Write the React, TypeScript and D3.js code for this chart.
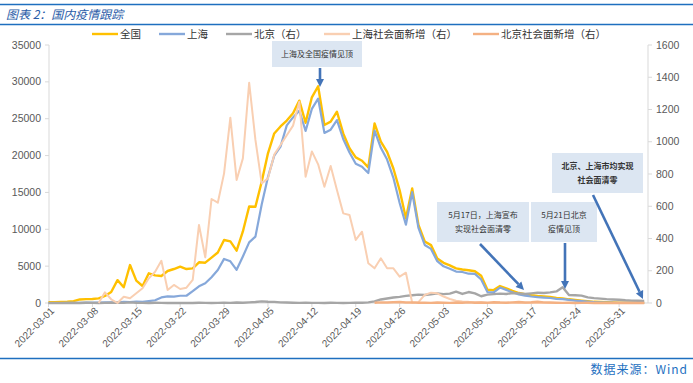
import React from "react";
import * as d3 from "d3";

// ---- data (daily, 2022-03-01 .. 2022-06-04) ----
const tickLabels = [
  "2022-03-01", "2022-03-08", "2022-03-15", "2022-03-22", "2022-03-29",
  "2022-04-05", "2022-04-12", "2022-04-19", "2022-04-26", "2022-05-03",
  "2022-05-10", "2022-05-17", "2022-05-24", "2022-05-31",
];

const seriesNames = ["全国", "上海", "北京（右）", "上海社会面新增（右）", "北京社会面新增（右）"];

const national = [
  95, 100, 130, 170, 250, 480, 520, 540, 620, 950,
  1500, 3100, 2130, 5150, 3030, 2310, 4030, 3750, 3660, 4340,
  4610, 4930, 4610, 4700, 5520, 5470, 6150, 6850, 8550, 8350,
  7100, 9700, 13100, 13050, 16450, 20300, 23000, 23950, 24750, 25750,
  27450, 24450, 27900, 29400, 24150, 24600, 25950, 23000, 21000, 19750,
  19300, 18400, 24350, 21900, 20500, 18250, 15300, 11500, 15550, 10600,
  8350, 7850, 6050, 5450, 5100, 4700, 4550, 4450, 4300, 3700,
  1800, 1750, 2300, 1990, 1650, 1350, 1200, 1050, 950, 880,
  820, 680, 620, 500, 400, 310, 230, 160, 130, 100,
  70, 55, 45, 35, 30, 25,
];

const shanghai = [
  2, 2, 3, 5, 6, 16, 45, 55, 62, 75,
  83, 65, 169, 139, 202, 158, 260, 374, 758, 896,
  865, 981, 983, 1609, 2269, 2678, 3500, 4477, 5982, 5653,
  4502, 6311, 8226, 9006, 13354, 17077, 19989, 21222, 24101, 25173,
  26087, 23342, 26330, 27719, 23072, 23513, 24820, 22248, 20416, 18901,
  18495, 17629, 23370, 21058, 19455, 16980, 13562, 10622, 15032, 10181,
  7872, 7333, 5669, 4982, 4651, 4269, 4214, 3975, 3947, 3200,
  1487, 1449, 2096, 1780, 1450, 1150, 1000, 880, 800, 740,
  680, 570, 520, 420, 330, 260, 190, 130, 100, 70,
  40, 30, 20, 12, 8, 5,
];

const beijing = [
  0, 1, 0, 0, 1, 0, 2, 1, 0, 1,
  2, 3, 1, 4, 2, 1, 0, 2, 1, 0,
  1, 0, 1, 0, 2, 1, 0, 1, 2, 1,
  3, 2, 4, 6, 10, 8, 7, 4, 3, 2,
  1, 2, 1, 1, 0, 2, 1, 0, 1, 2,
  2, 4, 10, 22, 28, 34, 38, 44, 48, 52,
  50, 54, 60, 55, 58, 70, 56, 68, 60, 42,
  52, 55, 58, 56, 62, 60, 56, 60, 64, 62,
  66, 72, 98, 50, 48, 46, 35, 30, 27, 24,
  22, 20, 17, 15, 14, 12,
];

const shanghaiSocial: (number | null)[] = [
  null, null, null, null, null, null, null, null, 0, 66,
  23, 0, 39, 29, 60, 91, 153, 194, 262, 81,
  112, 87, 95, 143, 484, 283, 645, 622, 804, 1149,
  763, 897, 1366, 1011, 742, 773, 920, 980, 1040, 1100,
  1248, 783, 940, 860, 721, 850, 701, 556, 546, 391,
  442, 246, 215, 277, 215, 215, 163, 188, 2, 5,
  50, 64, 60, 40, 25, 14, 10, 7, 5, 4,
  3, 2, 3, 2, 1, 0, 0, 0, 0, 0,
  0, 0, 0, 0, 0, 0, 0, 0, 0, 0,
  0, 0, 0, 0, 0, 0,
];

const beijingSocial: (number | null)[] = [
  null, null, null, null, null, null, null, null, null, null,
  null, null, null, null, null, null, null, null, null, null,
  null, null, null, null, null, null, null, null, null, null,
  null, null, null, null, null, null, null, null, null, null,
  null, null, null, null, null, null, null, null, null, null,
  null, null, 2, 4, 3, 5, 6, 3, 4, 2,
  2, 1, 3, 2, 1, 3, 2, 4, 2, 3,
  1, 5, 3, 2, 4, 6, 3, 5, 8, 4,
  3, 2, 1, 2, 0, 1, 2, 0, 1, 0,
  0, 1, 0, 0, 0, 0,
];

const leftTicks = [0, 5000, 10000, 15000, 20000, 25000, 30000, 35000];
const rightTicks = [0, 200, 400, 600, 800, 1000, 1200, 1400, 1600];

const annotations = [
  { box: [272, 41, 90, 26], lines: ["上海及全国疫情见顶"], bold: false, arrow: [320, 68, 320, 87] },
  { box: [437, 202, 92, 40], lines: ["5月17日，上海宣布", "实现社会面清零"], bold: false, arrow: [480, 244, 524, 290] },
  { box: [531, 202, 66, 40], lines: ["5月21日北京", "疫情见顶"], bold: false, arrow: [565, 243, 565, 289] },
  { box: [552, 153, 91, 40], lines: ["北京、上海市均实现", "社会面清零"], bold: true, arrow: [593, 195, 643, 299] },
];

const FONT = "'Liberation Sans', Arial, 'Noto Sans CJK SC', sans-serif";
const CJK = "'Noto Sans CJK SC', 'Liberation Sans', sans-serif";

const colors = ["#FFC000", "#86A8DA", "#A6A6A6", "#F9CFB2", "#F4B183"];
const widths = [2.4, 2.2, 2.4, 2.0, 2.4];

function Arrow({ a }: { a: number[] }) {
  const [x1, y1, x2, y2] = a;
  const ang = Math.atan2(y2 - y1, x2 - x1);
  const L = 8, Wd = 4;
  const bx = x2 - L * Math.cos(ang), by = y2 - L * Math.sin(ang);
  const px = -Math.sin(ang) * Wd, py = Math.cos(ang) * Wd;
  return (
    <g>
      <line x1={x1} y1={y1} x2={bx} y2={by} stroke="#4374B8" strokeWidth={2.6} />
      <polygon points={`${x2},${y2} ${bx + px},${by + py} ${bx - px},${by - py}`} fill="#4374B8" />
    </g>
  );
}

export default function App() {
  const W = 693, H = 383;
  const start = new Date(2022, 2, 1);
  const dates = d3.timeDay.range(start, new Date(2022, 5, 5));
  const x = d3.scaleTime().domain([start, new Date(2022, 5, 4)]).range([48.5, 644.2]);
  const yL = d3.scaleLinear().domain([0, 35000]).range([303, 45]);
  const yR = d3.scaleLinear().domain([0, 1600]).range([303, 45]);
  const parse = d3.timeParse("%Y-%m-%d");

  const mk = (vals: (number | null)[], y: d3.ScaleLinear<number, number>) =>
    d3.line<number | null>()
      .defined((v) => v !== null)
      .x((_, i) => x(dates[i]))
      .y((v) => y(v as number))(vals) || "";

  const paths = [
    mk(national, yL),
    mk(shanghai, yL),
    mk(beijing, yR),
    mk(shanghaiSocial, yR),
    mk(beijingSocial, yR),
  ];

  const legendX = [92, 159, 226, 324, 473];

  return (
    <svg width={W} height={H} style={{ position: "absolute", left: 0, top: 0, background: "#fff" }}>
      {/* header */}
      <line x1={0} x2={W} y1={4.5} y2={4.5} stroke="#1E6FBF" strokeWidth={1.5} />
      <text x={6} y={19} fontFamily={CJK} fontSize={12} fontStyle="italic" fill="#2A5CA8">图表 2：国内疫情跟踪</text>
      <line x1={0} x2={W} y1={24.5} y2={24.5} stroke="#1E6FBF" strokeWidth={1.5} />

      {/* legend */}
      {seriesNames.map((n, i) => (
        <g key={n}>
          <line x1={legendX[i]} x2={legendX[i] + 26} y1={34} y2={34} stroke={colors[i]} strokeWidth={2.4} />
          <text x={legendX[i] + 28} y={37.8} fontFamily={CJK} fontSize={10.5} fill="#333">{n}</text>
        </g>
      ))}

      {/* axes */}
      <line x1={49} x2={49} y1={45} y2={303} stroke="#D9D9D9" />
      <line x1={648} x2={648} y1={45} y2={303} stroke="#D9D9D9" />
      <line x1={49} x2={648} y1={303} y2={303} stroke="#D9D9D9" />
      {leftTicks.map((t) => (
        <g key={"l" + t}>
          <line x1={45} x2={49} y1={yL(t)} y2={yL(t)} stroke="#D9D9D9" />
          <text x={41} y={yL(t) + 3.6} textAnchor="end" fontFamily={FONT} fontSize={10.5} fill="#595959">{t}</text>
        </g>
      ))}
      {rightTicks.map((t) => (
        <g key={"r" + t}>
          <line x1={648} x2={652} y1={yR(t)} y2={yR(t)} stroke="#D9D9D9" />
          <text x={656} y={yR(t) + 3.6} fontFamily={FONT} fontSize={10.5} fill="#595959">{t}</text>
        </g>
      ))}
      {tickLabels.map((s) => {
        const tx = x(parse(s) as Date);
        return (
          <g key={s}>
            <line x1={tx} x2={tx} y1={303} y2={307} stroke="#D9D9D9" />
            <text transform={`translate(${tx + 4},${309}) rotate(-45)`} textAnchor="end" dy="0.35em"
              fontFamily={FONT} fontSize={10} fill="#595959">{s}</text>
          </g>
        );
      })}

      {/* series */}
      {paths.map((d, i) => (
        <path key={i} d={d} fill="none" stroke={colors[i]} strokeWidth={widths[i]} strokeLinejoin="round" />
      ))}

      {/* annotations */}
      {annotations.map((a, i) => {
        const [bx, by, bw, bh] = a.box;
        const n = a.lines.length;
        return (
          <g key={i}>
            <rect x={bx} y={by} width={bw} height={bh} fill="#DCE6F2" />
            {a.lines.map((l, j) => (
              <text key={j} x={bx + bw / 2} y={by + bh / 2 + (j - (n - 1) / 2) * 14 + 3}
                textAnchor="middle" fontFamily={CJK} fontSize={8} fontWeight={a.bold ? 700 : 400} fill="#333">{l}</text>
            ))}
            <Arrow a={a.arrow} />
          </g>
        );
      })}

      {/* footer */}
      <line x1={0} x2={W} y1={358.5} y2={358.5} stroke="#1E6FBF" strokeWidth={1.5} />
      <text x={688} y={374} textAnchor="end" fontFamily={CJK} fontSize={12} fill="#1E6FBF" letterSpacing={1}>数据来源：Wind</text>
    </svg>
  );
}
